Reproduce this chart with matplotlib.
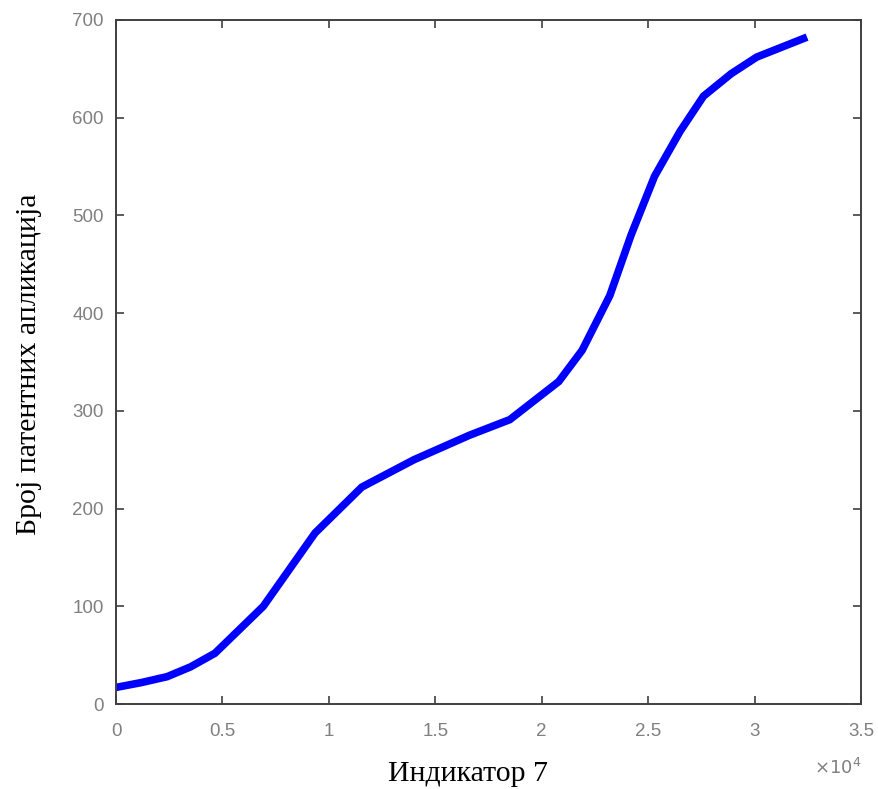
import matplotlib
matplotlib.use('Agg')
import matplotlib.pyplot as plt
from matplotlib.ticker import FuncFormatter

# values
indikator = [0, 1200, 2400, 3500, 4650, 6920, 9350, 11550, 14000, 16600, 18500, 20800,
             21900, 23200, 24200, 25300, 26500, 27600, 28900, 30100, 32300]
prijave = [17, 22, 28, 38, 52, 100, 175, 222, 250, 275, 291, 330,
           362, 418, 480, 540, 586, 622, 645, 662, 681]

x_ticks = [0, 5000, 10000, 15000, 20000, 25000, 30000, 35000]
y_ticks = [0, 100, 200, 300, 400, 500, 600, 700]

fig = plt.figure(figsize=(8.79, 7.89), dpi=100)
ax = fig.add_axes([0.132, 0.1077, 0.8475, 0.867])

ax.plot(indikator, prijave, color='#0000ff', lw=5.5, solid_joinstyle='miter')

ax.set_xlim(0, 35000)
ax.set_ylim(0, 700)
ax.set_xticks(x_ticks)
ax.set_yticks(y_ticks)
ax.xaxis.set_major_formatter(FuncFormatter(lambda v, p: '%g' % (v / 1e4)))

ax.tick_params(direction='in', top=True, right=True, length=6, width=1.2,
               color='#404040', labelcolor='#808080', labelsize=13.5)
ax.tick_params(axis='x', pad=14)
ax.tick_params(axis='y', pad=9)
for lab in ax.get_xticklabels() + ax.get_yticklabels():
    lab.set_family('Liberation Sans')
for s in ax.spines.values():
    s.set_color('#404040')
    s.set_linewidth(1.4)

ax.text(1.0, -0.093, r'$\times10^4$', transform=ax.transAxes, color='#808080',
        fontsize=13, ha='right', va='center')

ax.set_xlabel('Индикатор 7', family='Liberation Serif', fontsize=21.5)
ax.set_ylabel('Број патентних апликација', family='Liberation Serif', fontsize=21.5)
ax.xaxis.set_label_coords(0.472, -0.084)
ax.yaxis.set_label_coords(-0.099, 0.496)

fig.savefig('out.png', dpi=100)
